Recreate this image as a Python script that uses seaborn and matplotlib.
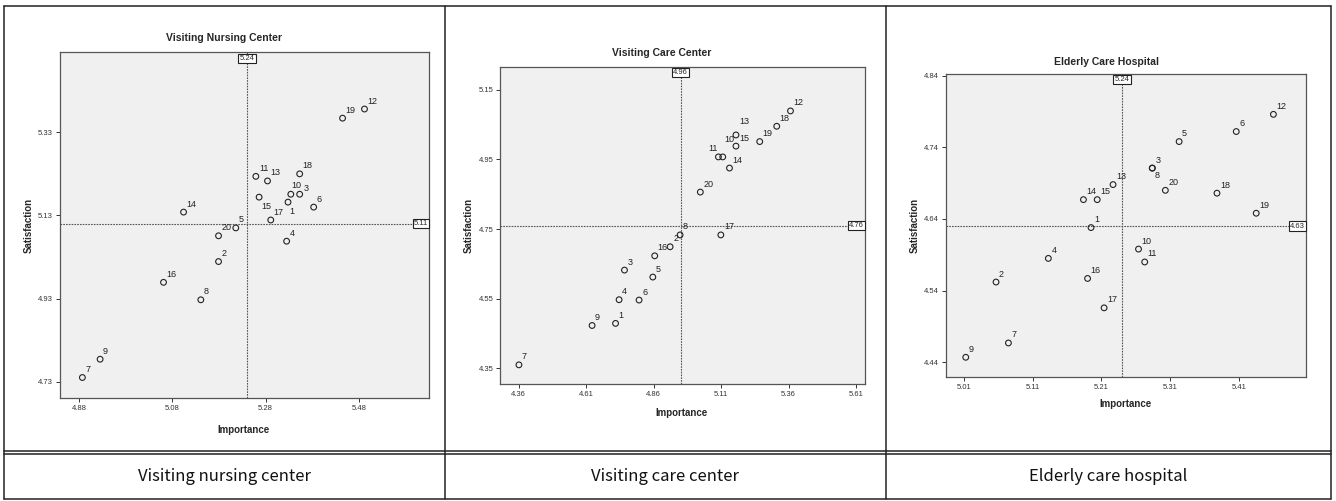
"""Importance-satisfaction quadrant plots for three care facility types."""

import matplotlib

matplotlib.use("Agg")

import matplotlib.pyplot as plt
import matplotlib.transforms as mtrans
import pandas as pd
import seaborn as sns
from matplotlib.lines import Line2D

W, H = 1336, 501

item_ids = list(range(1, 21))

nursing_importance = [5.328, 5.179, 5.353, 5.325, 5.216, 5.383, 4.887, 5.141, 4.925, 5.334,
                      5.259, 5.492, 5.284, 5.104, 5.266, 5.061, 5.291, 5.353, 5.445, 5.179]
nursing_satisfaction = [5.162, 5.019, 5.181, 5.068, 5.100, 5.150, 4.740, 4.927, 4.784, 5.181,
                        5.224, 5.386, 5.213, 5.138, 5.174, 4.969, 5.119, 5.230, 5.364, 5.081]

care_importance = [4.719, 4.921, 4.752, 4.732, 4.857, 4.806, 4.361, 4.958, 4.632, 5.116,
                   5.100, 5.367, 5.165, 5.141, 5.165, 4.864, 5.109, 5.316, 5.253, 5.033]
care_satisfaction = [4.479, 4.699, 4.632, 4.547, 4.612, 4.546, 4.360, 4.733, 4.473, 4.957,
                     4.957, 5.089, 5.020, 4.925, 4.988, 4.673, 4.733, 5.045, 5.001, 4.856]

hospital_importance = [5.195, 5.057, 5.284, 5.133, 5.323, 5.406, 5.075, 5.284, 5.013, 5.264,
                       5.273, 5.460, 5.227, 5.184, 5.204, 5.190, 5.214, 5.378, 5.435, 5.303]
hospital_satisfaction = [4.628, 4.552, 4.711, 4.585, 4.748, 4.762, 4.467, 4.711, 4.447, 4.598,
                         4.580, 4.786, 4.688, 4.667, 4.667, 4.557, 4.516, 4.676, 4.648, 4.680]

nursing_means = (5.24, 5.11)
care_means = (4.96, 4.76)
hospital_means = (5.24, 4.63)

nursing_xticks = [4.88, 5.08, 5.28, 5.48]
nursing_yticks = [4.73, 4.93, 5.13, 5.33]
care_xticks = [4.36, 4.61, 4.86, 5.11, 5.36, 5.61]
care_yticks = [4.35, 4.55, 4.75, 4.95, 5.15]
hospital_xticks = [5.01, 5.11, 5.21, 5.31, 5.41]
hospital_yticks = [4.44, 4.54, 4.64, 4.74, 4.84]

titles = ["Visiting Nursing Center", "Visiting Care Center", "Elderly Care Hospital"]
captions = ["Visiting nursing center", "Visiting care center", "Elderly care hospital"]

# plot-area boxes in pixels (left, top, right, bottom) and axis limits
panels = [
    dict(imp=nursing_importance, sat=nursing_satisfaction, means=nursing_means,
         xticks=nursing_xticks, yticks=nursing_yticks,
         box=(60, 52.3, 429.3, 398.3), xlim=(4.839, 5.631), ylim=(4.690, 5.5225),
         title_xy=(224, 38), xlabel_xy=(244, 430), ylabel_xy=(29, 225),
         offsets={15: (2, -9), 1: (1, -9), 10: (1, 9), 3: (4, 6)}),
    dict(imp=care_importance, sat=care_satisfaction, means=care_means,
         xticks=care_xticks, yticks=care_yticks,
         box=(500.3, 66.7, 865, 384), xlim=(4.292, 5.643), ylim=(4.305, 5.216),
         title_xy=(662, 53), xlabel_xy=(682, 413), ylabel_xy=(469, 225),
         offsets={11: (-10, 8), 10: (2, 17), 13: (3, 13)}),
    dict(imp=hospital_importance, sat=hospital_satisfaction, means=hospital_means,
         xticks=hospital_xticks, yticks=hospital_yticks,
         box=(946, 74, 1305.7, 377), xlim=(4.9843, 5.5069), ylim=(4.4195, 4.8423),
         title_xy=(1106, 62), xlabel_xy=(1125, 404), ylabel_xy=(915, 225),
         offsets={8: (2, -7)}),
]

sns.set_style("ticks")
plt.rcParams["font.family"] = ["Liberation Sans", "DejaVu Sans"]

fig = plt.figure(figsize=(W / 100, H / 100), dpi=100)


def fx(px):
    return px / W


def fy(py):
    return 1 - py / H


for p, title in zip(panels, titles):
    l, t, r, b = p["box"]
    ax = fig.add_axes([fx(l), fy(b), fx(r - l), (b - t) / H])
    ax.set_facecolor("#f0f0f0")
    df = pd.DataFrame({"Importance": p["imp"], "Satisfaction": p["sat"], "id": item_ids})
    sns.scatterplot(data=df, x="Importance", y="Satisfaction", ax=ax, marker="o", s=17,
                    facecolor="none", edgecolor="#222222", linewidth=0.8, zorder=3)
    for _, row in df.iterrows():
        dx, dy = p["offsets"].get(row["id"], (3, 8))
        ax.annotate(str(int(row["id"])), (row["Importance"], row["Satisfaction"]),
                    xytext=(dx, dy), textcoords="offset pixels", ha="left", va="center",
                    fontsize=6.5, color="#222222")
    mx, my = p["means"]
    ax.axvline(mx, color="#555555", lw=0.8, ls=(0, (1.5, 1)), zorder=2)
    ax.axhline(my, color="#555555", lw=0.8, ls=(0, (1.5, 1)), zorder=2)
    box = dict(boxstyle="square,pad=0.15", fc="white", ec="#222222", lw=0.8)
    ax.text(mx, 0.993, f"{mx:.2f}", transform=mtrans.blended_transform_factory(ax.transData, ax.transAxes),
            ha="center", va="top", fontsize=5.5, bbox=box, zorder=4)
    ax.text(0.997, my, f"{my:.2f}", transform=mtrans.blended_transform_factory(ax.transAxes, ax.transData),
            ha="right", va="center", fontsize=5.5, bbox=box, zorder=4)
    ax.set_xlim(*p["xlim"])
    ax.set_ylim(*p["ylim"])
    ax.set_xticks(p["xticks"])
    ax.set_yticks(p["yticks"])
    ax.set_xticklabels([f"{v:.2f}" for v in p["xticks"]])
    ax.set_yticklabels([f"{v:.2f}" for v in p["yticks"]])
    ax.tick_params(length=3, width=0.7, labelsize=5.5, colors="#333333", pad=2)
    for s in ax.spines.values():
        s.set_color("#555555")
        s.set_linewidth(0.9)
    ax.set_xlabel("")
    ax.set_ylabel("")
    fig.text(fx(p["title_xy"][0]), fy(p["title_xy"][1]), title, ha="center", va="center",
             fontsize=7.5, fontweight="bold")
    fig.text(fx(p["xlabel_xy"][0]), fy(p["xlabel_xy"][1]), "Importance", ha="center",
             va="center", fontsize=7, fontweight="bold")
    fig.text(fx(p["ylabel_xy"][0]), fy(p["ylabel_xy"][1]), "Satisfaction", ha="center",
             va="center", rotation=90, fontsize=7, fontweight="bold")

# table frame
col_edges = [3.5, 444.5, 886, 1330.5]
top, mid1, mid2, bottom = 5.5, 450.5, 453.5, 499
frame = [((col_edges[0], col_edges[-1]), (top, top)),
         ((col_edges[0], col_edges[-1]), (mid1, mid1)),
         ((col_edges[0], col_edges[-1]), (mid2, mid2)),
         ((col_edges[0], col_edges[-1]), (bottom, bottom))]
for xe in col_edges:
    frame.append(((xe, xe), (top, bottom)))
for xs, ys in frame:
    fig.add_artist(Line2D([fx(v) for v in xs], [fy(v) for v in ys], color="#222222", lw=1.1))

for i, cap in enumerate(captions):
    cx = (col_edges[i] + col_edges[i + 1]) / 2
    fig.text(fx(cx), fy(476.5), cap, ha="center", va="center", fontsize=12,
             family=["Noto Sans CJK KR", "DejaVu Sans"], color="#111111")

fig.savefig("out.png", dpi=100)
